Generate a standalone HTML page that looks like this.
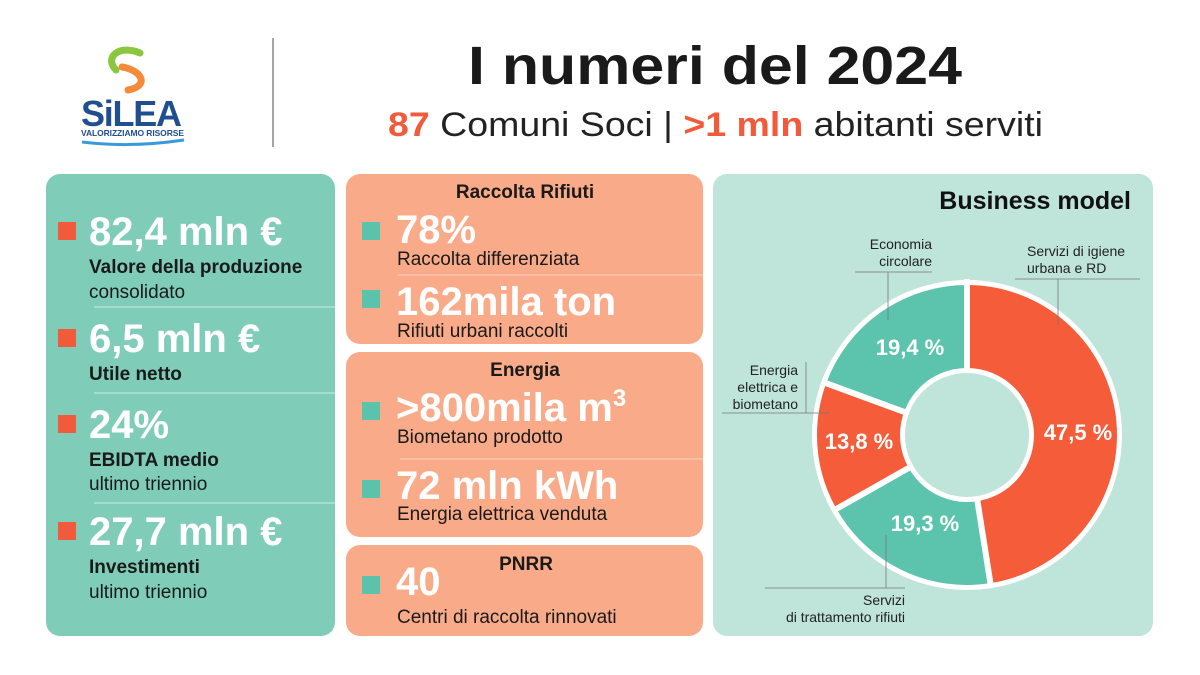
<!DOCTYPE html>
<html><head><meta charset="utf-8"><style>
html,body{margin:0;padding:0;background:#fff}
svg{display:block}
text{font-family:"Liberation Sans",sans-serif}
.big{font-size:40px;font-weight:bold;fill:#fff}
.lb{font-size:19px;font-weight:bold;fill:#1a1a1a}
.ls{font-size:19px;fill:#1a1a1a}
.mid{font-size:19px;fill:#1a1a1a}
.hd{font-size:19px;font-weight:bold;fill:#1a1a1a}
.pc{font-size:22px;font-weight:bold;fill:#fff}
.an{font-size:14px;fill:#222}
</style></head><body>
<svg width="1200" height="675" viewBox="0 0 1200 675" xmlns="http://www.w3.org/2000/svg">
<rect width="1200" height="675" fill="#fff"/>
<path d="M140,53 C118,44 104,58 116,70" stroke="#8cc63f" stroke-width="7" fill="none" stroke-linecap="round"/>
<path d="M122,67 C142,70 150,86 128,90" stroke="#f58a3a" stroke-width="7" fill="none" stroke-linecap="round"/>
<text x="81" y="126" textLength="101" style="font-size:36px;font-weight:bold;fill:#1f4f8f">SiLEA</text>
<text x="81" y="136" textLength="103" style="font-size:8.5px;font-weight:bold;fill:#1f4f8f">VALORIZZIAMO RISORSE</text>
<path d="M82,142 Q130,148 184,140" stroke="#3a9ad9" stroke-width="3" fill="none"/>
<line x1="273" y1="38" x2="273" y2="147" stroke="#888" stroke-width="1.5"/>
<text x="468" y="84" textLength="494" lengthAdjust="spacingAndGlyphs" style="font-size:54px;font-weight:bold;fill:#1a1a1a">I numeri del 2024</text>
<text x="388" y="136" textLength="655" lengthAdjust="spacingAndGlyphs" style="font-size:34px;fill:#222"><tspan style="font-weight:bold;fill:#f15a3a">87</tspan> Comuni Soci | <tspan style="font-weight:bold;fill:#f15a3a">&gt;1 mln</tspan> abitanti serviti</text>
<rect x="46" y="174" width="289" height="462" rx="14" fill="#7fcdb9"/>
<g fill="#f15a3a"><rect x="58" y="222" width="18" height="18"/><rect x="58" y="329" width="18" height="18"/><rect x="58" y="415" width="18" height="18"/><rect x="58" y="522" width="18" height="18"/></g>
<g stroke="#c8ece3" stroke-width="1"><line x1="94" y1="307" x2="335" y2="307"/><line x1="94" y1="393" x2="335" y2="393"/><line x1="94" y1="503" x2="335" y2="503"/></g>
<text x="89" y="245" class="big">82,4 mln €</text>
<text x="89" y="273" class="lb">Valore della produzione</text>
<text x="89" y="298" class="ls">consolidato</text>
<text x="89" y="352" class="big">6,5 mln €</text>
<text x="89" y="380" class="lb">Utile netto</text>
<text x="89" y="438" class="big">24%</text>
<text x="89" y="466" class="lb">EBIDTA medio</text>
<text x="89" y="490" class="ls">ultimo triennio</text>
<text x="89" y="545" class="big">27,7 mln €</text>
<text x="89" y="573" class="lb">Investimenti</text>
<text x="89" y="598" class="ls">ultimo triennio</text>
<rect x="346" y="174" width="357" height="170" rx="14" fill="#f9aa89"/>
<rect x="346" y="352" width="357" height="185" rx="14" fill="#f9aa89"/>
<rect x="346" y="545" width="357" height="91" rx="14" fill="#f9aa89"/>
<g fill="#5bc3ab"><rect x="362" y="222" width="18" height="18"/><rect x="362" y="290" width="18" height="18"/><rect x="362" y="402" width="18" height="18"/><rect x="362" y="480" width="18" height="18"/><rect x="362" y="576" width="18" height="18"/></g>
<g stroke="#fcd3c2" stroke-width="1"><line x1="397" y1="275" x2="703" y2="275"/><line x1="400" y1="459" x2="703" y2="459"/></g>
<text x="525" y="198" text-anchor="middle" class="hd">Raccolta Rifiuti</text>
<text x="396" y="243" class="big">78%</text>
<text x="397" y="265" class="mid">Raccolta differenziata</text>
<text x="396" y="315" class="big">162mila ton</text>
<text x="397" y="337" class="mid">Rifiuti urbani raccolti</text>
<text x="525" y="376" text-anchor="middle" class="hd">Energia</text>
<text x="396" y="421" class="big">&gt;800mila m<tspan dy="-15" style="font-size:24px">3</tspan></text>
<text x="397" y="443" class="mid">Biometano prodotto</text>
<text x="396" y="499" class="big">72 mln kWh</text>
<text x="397" y="520" class="mid">Energia elettrica venduta</text>
<text x="526" y="570" text-anchor="middle" class="hd">PNRR</text>
<text x="396" y="595" class="big">40</text>
<text x="397" y="623" class="mid">Centri di raccolta rinnovati</text>
<rect x="713" y="174" width="440" height="462" rx="14" fill="#bfe4d9"/>
<text x="1131" y="209" text-anchor="end" style="font-size:25px;font-weight:bold;fill:#111">Business model</text>
<circle cx="967" cy="435" r="155" fill="#fff"/>
<g transform="rotate(-90 967 435)" fill="none" stroke-width="85">
<circle cx="967" cy="435" r="107.5" stroke="#f45c3a" stroke-dasharray="320.8 1000" stroke-dashoffset="0"/>
<circle cx="967" cy="435" r="107.5" stroke="#5cc4ad" stroke-dasharray="130.4 1000" stroke-dashoffset="-320.8"/>
<circle cx="967" cy="435" r="107.5" stroke="#f45c3a" stroke-dasharray="93.2 1000" stroke-dashoffset="-451.2"/>
<circle cx="967" cy="435" r="107.5" stroke="#5cc4ad" stroke-dasharray="131 1000" stroke-dashoffset="-544.4"/>
</g>
<g stroke="#fff" stroke-width="6">
<line x1="967" y1="375" x2="967" y2="279"/>
<line x1="976.4" y1="494.3" x2="991.2" y2="588.1"/>
<line x1="914.8" y1="464.5" x2="832.1" y2="511.3"/>
<line x1="910.7" y1="414.3" x2="821.5" y2="381.5"/>
</g>
<circle cx="967" cy="435" r="67" fill="#fff"/>
<circle cx="967" cy="435" r="62" fill="#bfe4d9"/>
<text x="1078" y="440" text-anchor="middle" class="pc">47,5 %</text>
<text x="910" y="355" text-anchor="middle" class="pc">19,4 %</text>
<text x="859" y="449" text-anchor="middle" class="pc">13,8 %</text>
<text x="925" y="531" text-anchor="middle" class="pc">19,3 %</text>
<g stroke="#777" stroke-width="0.8">
<line x1="855" y1="272" x2="932" y2="272"/><line x1="888" y1="272" x2="888" y2="320"/>
<line x1="1015" y1="279" x2="1140" y2="279"/><line x1="1058" y1="279" x2="1058" y2="325"/>
<line x1="806" y1="362" x2="806" y2="413"/><line x1="722" y1="413" x2="830" y2="413"/>
<line x1="765" y1="588" x2="905" y2="588"/><line x1="886" y1="535" x2="886" y2="588"/>
</g>
<text x="932" y="249" text-anchor="end" class="an">Economia</text>
<text x="932" y="266" text-anchor="end" class="an">circolare</text>
<text x="1027" y="256" class="an">Servizi di igiene</text>
<text x="1027" y="273" class="an">urbana e RD</text>
<text x="798" y="375" text-anchor="end" class="an">Energia</text>
<text x="798" y="392" text-anchor="end" class="an">elettrica e</text>
<text x="798" y="409" text-anchor="end" class="an">biometano</text>
<text x="905" y="605" text-anchor="end" class="an">Servizi</text>
<text x="905" y="622" text-anchor="end" class="an">di trattamento rifiuti</text>
</svg>
</body></html>
